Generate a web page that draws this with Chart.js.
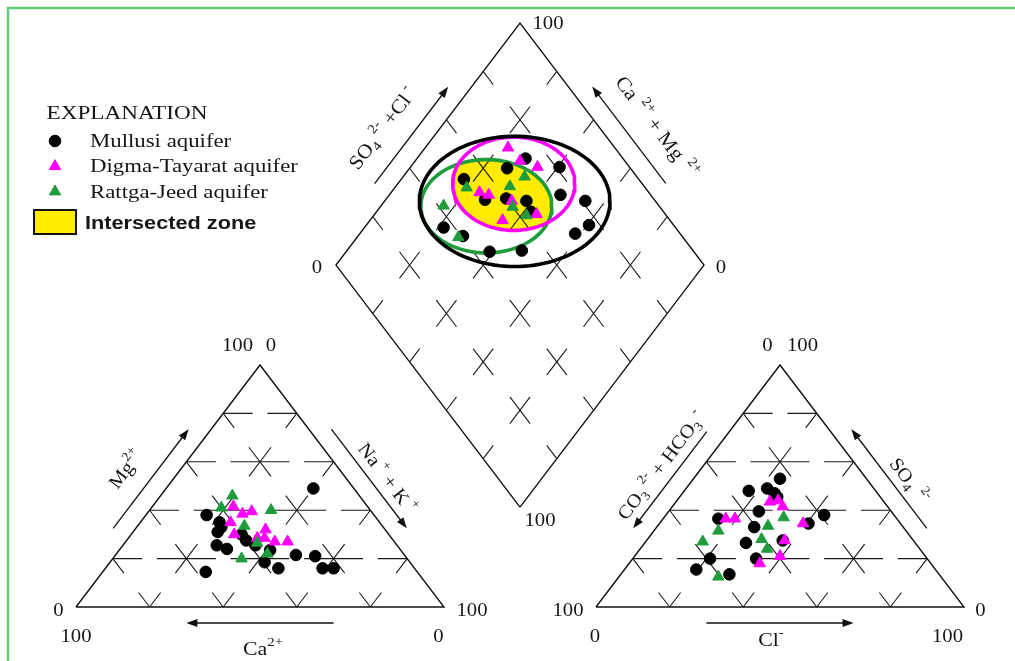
<!DOCTYPE html>
<html>
<head>
<meta charset="utf-8">
<script src="https://cdn.jsdelivr.net/npm/chart.js@4.4.1/dist/chart.umd.min.js"></script>
<style>
  body { margin: 0; background: #fff; }
  #wrap { position: relative; width: 1015px; height: 661px; }
</style>
</head>
<body>
<div id="wrap"><canvas id="piper" width="1015" height="661"></canvas></div>
<script>
// DATA (percent of meq)
// cation triangle: [Mg2+, Na+ + K+]
const mullusiCations = [[49, 40], [38, 16.5], [35, 21.5], [33, 23], [31, 23], [25.5, 25.5], [24, 29], [30, 30],
  [27.5, 32.5], [25.5, 36], [23.5, 41], [18.5, 42], [16, 47], [21.5, 49], [21, 54.5], [16, 59], [16, 62], [14.5, 28]]
const digmaCations = [[41.5, 22], [39.5, 28], [38.5, 26], [35, 24.5], [30, 28], [32, 35.5], [28.5, 35], [28.5, 37],
  [27, 40.5], [27, 44]]
const rattgaCations = [[46, 19.5], [41, 19], [40, 33], [33.5, 29], [26.5, 36], [22, 41], [20, 35]]

// anion triangle: [SO4 2-, Cl-]
const mullusiAnions = [[53, 23.5], [48, 17.5], [49, 22], [47, 25], [45.5, 26.5], [39.5, 24.5], [36.5, 15], [38, 43],
  [34.5, 40.5], [33, 26.5], [26.5, 27.5], [27.5, 37], [20, 33.5], [20, 21], [15.5, 19.5], [13.5, 29.5]]
const digmaAnions = [[43.5, 25.5], [44, 27.5], [41.5, 30], [36.5, 17], [36.5, 19.5], [34.5, 39], [27.5, 37.5],
  [21, 39.5], [18, 35.5]]
const rattgaAnions = [[37, 32.5], [33.5, 30], [31.5, 17.5], [28, 31], [27, 15.5], [24, 34.5], [12.5, 27]]

// diamond: [Ca2+ + Mg2+, SO4 2- + Cl-]
const mullusiDiamond = [[70.5, 73.5], [73.5, 66.5], [59.5, 81], [83, 52.5], [73, 54], [67.5, 60], [61.5, 65],
  [53.5, 75.5], [45.5, 81], [58, 64], [39.5, 77], [78.5, 37], [71.5, 40.5], [41.5, 71.5], [61, 44.5], [52.5, 53.5]]
const digmaDiamond = [[77.5, 71], [71.5, 71.5], [65.5, 75], [76, 54], [73, 56], [65.5, 61], [56, 65], [64, 54.5]]
const rattgaDiamond = [[67, 69.5], [80.5, 51.5], [69, 63.5], [83, 41.5], [64, 60], [58.5, 62], [72.5, 39]]

// zones in the diamond: [Ca+Mg centre, SO4+Cl centre, x radius, y radius]
const mullusiZone = [64.6, 61.7, 25.9, 23.3]
const digmaZone = [68.5, 65.1, 16.6, 16.7]
const rattgaZone = [71.3, 53.0, 17.8, 16.7]

const seriesNames = ["Mullusi aquifer", "Digma-Tayarat aquifer", "Rattga-Jeed aquifer"]

// GEOMETRY
const SQ3 = Math.sqrt(3)
const SIDE = 100
const H = SIDE * SQ3 / 2
const GAP = 41.3
const X_RANGE = [-20.65, 255.16]
const Y_RANGE = [-19.32, 217.22]
const kx = 1015 / (X_RANGE[1] - X_RANGE[0])
const ky = 661 / (Y_RANGE[1] - Y_RANGE[0])

function cationPt([mg, na]) { return { x: na + mg / 2, y: mg / 100 * H } }
function anionPt([so4, cl]) { return { x: SIDE + GAP + cl + so4 / 2, y: so4 / 100 * H } }
function diamondPt([camg, so4cl]) {
  return { x: SIDE + GAP / 2 + (so4cl - camg) / 2, y: GAP / 2 * SQ3 + (camg + so4cl) / 100 * H }
}
function lerp(a, b, f) { return { x: a.x + (b.x - a.x) * f, y: a.y + (b.y - a.y) * f } }
function pxLen(a, b) { return Math.hypot((b.x - a.x) * kx, (b.y - a.y) * ky) }

const catL = cationPt([0, 0]), catT = cationPt([100, 0]), catR = cationPt([0, 100])
const anL = anionPt([0, 0]), anT = anionPt([100, 0]), anR = anionPt([0, 100])
const dB = diamondPt([0, 0]), dL = diamondPt([100, 0]), dT = diamondPt([100, 100]), dR = diamondPt([0, 100])

function gridLine(a, b, step, frac) {
  const d = step * frac
  return {
    data: [a, b], showLine: true, pointRadius: 0, borderColor: "#1a1a1a", borderWidth: 1.1,
    borderDash: [d, step - d], borderDashOffset: d / 2, order: 2,
  }
}

function outline(pts) {
  return { data: pts, showLine: true, pointRadius: 0, borderColor: "#111", borderWidth: 1.4, order: 2 }
}

function triGrid(L, T, R) {
  const lines = []
  for (let k = 1; k < 5; k++) {
    const f = k / 5
    lines.push(gridLine(lerp(L, T, f), lerp(R, T, f), pxLen(L, R) / 5, 0.8))
    lines.push(gridLine(lerp(L, R, f), lerp(T, R, f), pxLen(L, T) / 5, 0.6))
    lines.push(gridLine(lerp(R, L, f), lerp(T, L, f), pxLen(R, T) / 5, 0.6))
  }
  return lines
}

function diamondGrid(B, L, T, R) {
  const lines = []
  for (let k = 1; k < 5; k++) {
    const f = k / 5
    lines.push(gridLine(lerp(B, R, f), lerp(L, T, f), pxLen(B, L) / 5, 0.55))
    lines.push(gridLine(lerp(B, L, f), lerp(R, T, f), pxLen(B, R) / 5, 0.55))
  }
  return lines
}

function ellipseData([camg, so4cl, rx, ry]) {
  const c = diamondPt([camg, so4cl])
  const pts = []
  for (let i = 0; i <= 120; i++) {
    const a = i / 120 * 2 * Math.PI
    pts.push({ x: c.x + rx * Math.cos(a), y: c.y + ry * Math.sin(a) })
  }
  return pts
}

function zoneLine(zone, color) {
  return { data: ellipseData(zone), showLine: true, pointRadius: 0, borderColor: color, borderWidth: 3.6, order: 1 }
}

const BLACK = "#000", MAGENTA = "#ff00ff", GREEN = "#1f9d3c", YELLOW = "#ffec00"

const pointSets = [
  { label: seriesNames[0], style: "circle", radius: 5.8, color: BLACK, order: 0.6,
    pts: [...mullusiCations.map(cationPt), ...mullusiAnions.map(anionPt), ...mullusiDiamond.map(diamondPt)] },
  { label: seriesNames[1], style: "triangle", radius: 6.6, color: MAGENTA, order: 0.3,
    pts: [...digmaCations.map(cationPt), ...digmaAnions.map(anionPt), ...digmaDiamond.map(diamondPt)] },
  { label: seriesNames[2], style: "triangle", radius: 6.6, color: GREEN, order: 0,
    pts: [...rattgaCations.map(cationPt), ...rattgaAnions.map(anionPt), ...rattgaDiamond.map(diamondPt)] },
]

const datasets = [
  ...pointSets.map((s) => ({
    label: s.label, data: s.pts, pointStyle: s.style, pointRadius: s.radius,
    backgroundColor: s.color, borderColor: s.color, borderWidth: 1, order: s.order,
  })),
  zoneLine(mullusiZone, BLACK),
  zoneLine(digmaZone, MAGENTA),
  zoneLine(rattgaZone, GREEN),
  ...triGrid(catL, catT, catR),
  ...triGrid(anL, anT, anR),
  ...diamondGrid(dB, dL, dT, dR),
  outline([catL, catT, catR, catL]),
  outline([anL, anT, anR, anL]),
  outline([dB, dL, dT, dR, dB]),
]

// PLUGINS
const SERIF = '"Liberation Serif", "DejaVu Serif", serif'
const SANS = '"Liberation Sans", Arial, sans-serif'

function toPx(chart, p) {
  return { x: chart.scales.x.getPixelForValue(p.x), y: chart.scales.y.getPixelForValue(p.y) }
}

function zoneEllipsePath(chart, ctx, [camg, so4cl, rx, ry]) {
  const c = diamondPt([camg, so4cl])
  const p = toPx(chart, c)
  const e = toPx(chart, { x: c.x + rx, y: c.y + ry })
  ctx.beginPath()
  ctx.ellipse(p.x, p.y, Math.abs(e.x - p.x), Math.abs(p.y - e.y), 0, 0, 2 * Math.PI)
}

const intersectPlugin = {
  id: "intersect",
  beforeDatasetsDraw(chart) {
    const ctx = chart.ctx
    ctx.save()
    zoneEllipsePath(chart, ctx, digmaZone)
    ctx.clip()
    zoneEllipsePath(chart, ctx, rattgaZone)
    ctx.fillStyle = YELLOW
    ctx.fill()
    ctx.restore()
  },
}

// point along edge a->b at t, pushed off the edge by off px (sign picks side)
function edgePoint(chart, a, b, t, off, sign) {
  const pa = toPx(chart, a), pb = toPx(chart, b)
  const dx = pb.x - pa.x, dy = pb.y - pa.y
  const len = Math.hypot(dx, dy)
  const nx = dy / len * sign, ny = -dx / len * sign
  return { x: pa.x + dx * t + nx * off, y: pa.y + dy * t + ny * off, angle: Math.atan2(dy, dx) }
}

function arrow(ctx, p1, p2) {
  const ang = Math.atan2(p2.y - p1.y, p2.x - p1.x)
  ctx.beginPath()
  ctx.moveTo(p1.x, p1.y)
  ctx.lineTo(p2.x - Math.cos(ang) * 8, p2.y - Math.sin(ang) * 8)
  ctx.stroke()
  ctx.beginPath()
  ctx.moveTo(p2.x, p2.y)
  ctx.lineTo(p2.x - Math.cos(ang) * 11 + Math.sin(ang) * 4, p2.y - Math.sin(ang) * 11 - Math.cos(ang) * 4)
  ctx.lineTo(p2.x - Math.cos(ang) * 11 - Math.sin(ang) * 4, p2.y - Math.sin(ang) * 11 + Math.cos(ang) * 4)
  ctx.closePath()
  ctx.fill()
}

// parts: [text, kind] with kind 0 normal, 1 superscript, -1 subscript
function drawRich(ctx, parts, x, y, opts = {}) {
  const size = opts.size || 19
  const small = size * 0.68
  const family = opts.family || SERIF
  const weight = opts.weight || "normal"
  ctx.save()
  ctx.translate(x, y)
  ctx.rotate(opts.angle || 0)
  ctx.scale(opts.sx || 1.15, 1)
  ctx.fillStyle = "#161616"
  ctx.textBaseline = "alphabetic"
  ctx.textAlign = "left"
  const widths = parts.map(([t, k]) => {
    ctx.font = `${weight} ${k ? small : size}px ${family}`
    return ctx.measureText(t).width
  })
  const total = widths.reduce((a, b) => a + b, 0)
  let cx = opts.align === "left" ? 0 : -total / 2
  const base = opts.middle ? size * 0.33 : 0
  parts.forEach(([t, k], i) => {
    ctx.font = `${weight} ${k ? small : size}px ${family}`
    const dy = k === 1 ? -size * 0.48 : k === -1 ? size * 0.22 : 0
    ctx.fillText(t, cx, base + dy)
    cx += widths[i]
  })
  ctx.restore()
}

const labelPlugin = {
  id: "labels",
  afterDraw(chart) {
    const ctx = chart.ctx
    ctx.save()

    // frame
    ctx.strokeStyle = "#5fcf76"
    ctx.lineWidth = 2.5
    ctx.beginPath()
    ctx.moveTo(8, 661)
    ctx.lineTo(8, 8)
    ctx.lineTo(1015, 8)
    ctx.stroke()

    // vertex values
    const num = (txt, v, dx, dy) => {
      const p = toPx(chart, v)
      drawRich(ctx, [[txt, 0]], p.x + dx, p.y + dy, { size: 18 })
    }
    num("100", dT, 28, 6); num("0", dL, -19, 8); num("0", dR, 17, 8); num("100", dB, 20, 19)
    num("100", catT, -22.5, -14); num("0", catT, 11, -14)
    num("0", catL, -17.5, 9); num("100", catL, 0, 35)
    num("0", catR, -5.5, 35); num("100", catR, 28, 9)
    num("0", anT, -12.5, -14); num("100", anT, 22.5, -14)
    num("100", anL, -28, 9); num("0", anL, -1, 35)
    num("100", anR, -16.5, 35); num("0", anR, 16.5, 9)

    // axis arrows
    ctx.strokeStyle = "#111"
    ctx.fillStyle = "#111"
    ctx.lineWidth = 1.3
    const edgeArrow = (a, b, t0, t1, off, sign) =>
      arrow(ctx, edgePoint(chart, a, b, t0, off, sign), edgePoint(chart, a, b, t1, off, sign))
    edgeArrow(catL, catT, 0.28, 0.69, 18, 1)
    edgeArrow(catT, catR, 0.31, 0.72, 18, 1)
    edgeArrow(catR, catL, 0.3, 0.7, 16, 1)
    edgeArrow(anT, anL, 0.32, 0.72, 18, -1)
    edgeArrow(anR, anT, 0.28, 0.69, 18, -1)
    edgeArrow(anL, anR, 0.3, 0.7, 16, -1)
    edgeArrow(dL, dT, 0.29, 0.69, 18.5, 1)
    edgeArrow(dR, dT, 0.29, 0.69, 19, -1)

    // axis titles
    const edgeLabel = (parts, a, b, t, off, sign, flip, size = 19) => {
      const p = edgePoint(chart, a, b, t, off, sign)
      const ang = flip ? p.angle + Math.PI : p.angle
      drawRich(ctx, parts, p.x, p.y, { angle: ang, middle: true, size, sx: 1.08 })
    }
    edgeLabel([["Mg", 0], ["2+", 1]], catL, catT, 0.46, 44, 1)
    edgeLabel([["Na", 0], [" +", 1], [" + K", 0], [" +", 1]], catT, catR, 0.55, 33, 1)
    edgeLabel([["CO", 0], ["3", -1], [" 2-", 1], [" + HCO", 0], ["3", -1], [" -", 1]], anT, anL, 0.5, 34, -1, true)
    edgeLabel([["SO", 0], ["4", -1], ["  2-", 1]], anR, anT, 0.44, 33, -1, true)
    edgeLabel([["SO", 0], ["4", -1], [" 2-", 1], [" +Cl", 0], [" -", 1]], dL, dT, 0.45, 46, 1, false, 20)
    edgeLabel([["Ca", 0], ["  2+", 1], [" + Mg", 0], ["  2+", 1]], dR, dT, 0.455, 46, -1, true, 20)

    const cb = toPx(chart, lerp(catL, catR, 0.5))
    drawRich(ctx, [["Ca", 0], ["2+", 1]], cb.x + 3, cb.y + 48, { size: 19 })
    const ab = toPx(chart, lerp(anL, anR, 0.5))
    drawRich(ctx, [["Cl", 0], ["-", 1]], ab.x - 9, ab.y + 39, { size: 19 })

    // legend
    drawRich(ctx, [["EXPLANATION", 0]], 46.5, 119, { size: 19, align: "left", sx: 1.22 })
    pointSets.forEach((s, i) => {
      const y = 141 + i * 25.3
      ctx.fillStyle = s.color
      ctx.strokeStyle = s.color
      ctx.lineWidth = 1
      Chart.helpers.drawPoint(ctx, { pointStyle: s.style, radius: s.radius, rotation: 0, borderWidth: 1 }, 55, y)
      drawRich(ctx, [[s.label, 0]], 90, y + 6, { size: 19, align: "left", sx: 1.2 })
    })
    ctx.fillStyle = YELLOW
    ctx.fillRect(34, 210, 42, 24)
    ctx.strokeStyle = "#111"
    ctx.lineWidth = 2
    ctx.strokeRect(34, 210, 42, 24)
    drawRich(ctx, [["Intersected zone", 0]], 85, 229, { size: 17.5, family: SANS, weight: "bold", align: "left", sx: 1.24 })

    ctx.restore()
  },
}

new Chart(document.getElementById("piper"), {
  type: "scatter",
  data: { datasets },
  options: {
    responsive: false,
    animation: false,
    events: [],
    devicePixelRatio: 1,
    layout: { padding: 0, autoPadding: false },
    scales: {
      x: { type: "linear", min: X_RANGE[0], max: X_RANGE[1], display: false },
      y: { type: "linear", min: Y_RANGE[0], max: Y_RANGE[1], display: false },
    },
    plugins: { legend: { display: false }, tooltip: { enabled: false } },
  },
  plugins: [intersectPlugin, labelPlugin],
})
</script>
</body>
</html>
